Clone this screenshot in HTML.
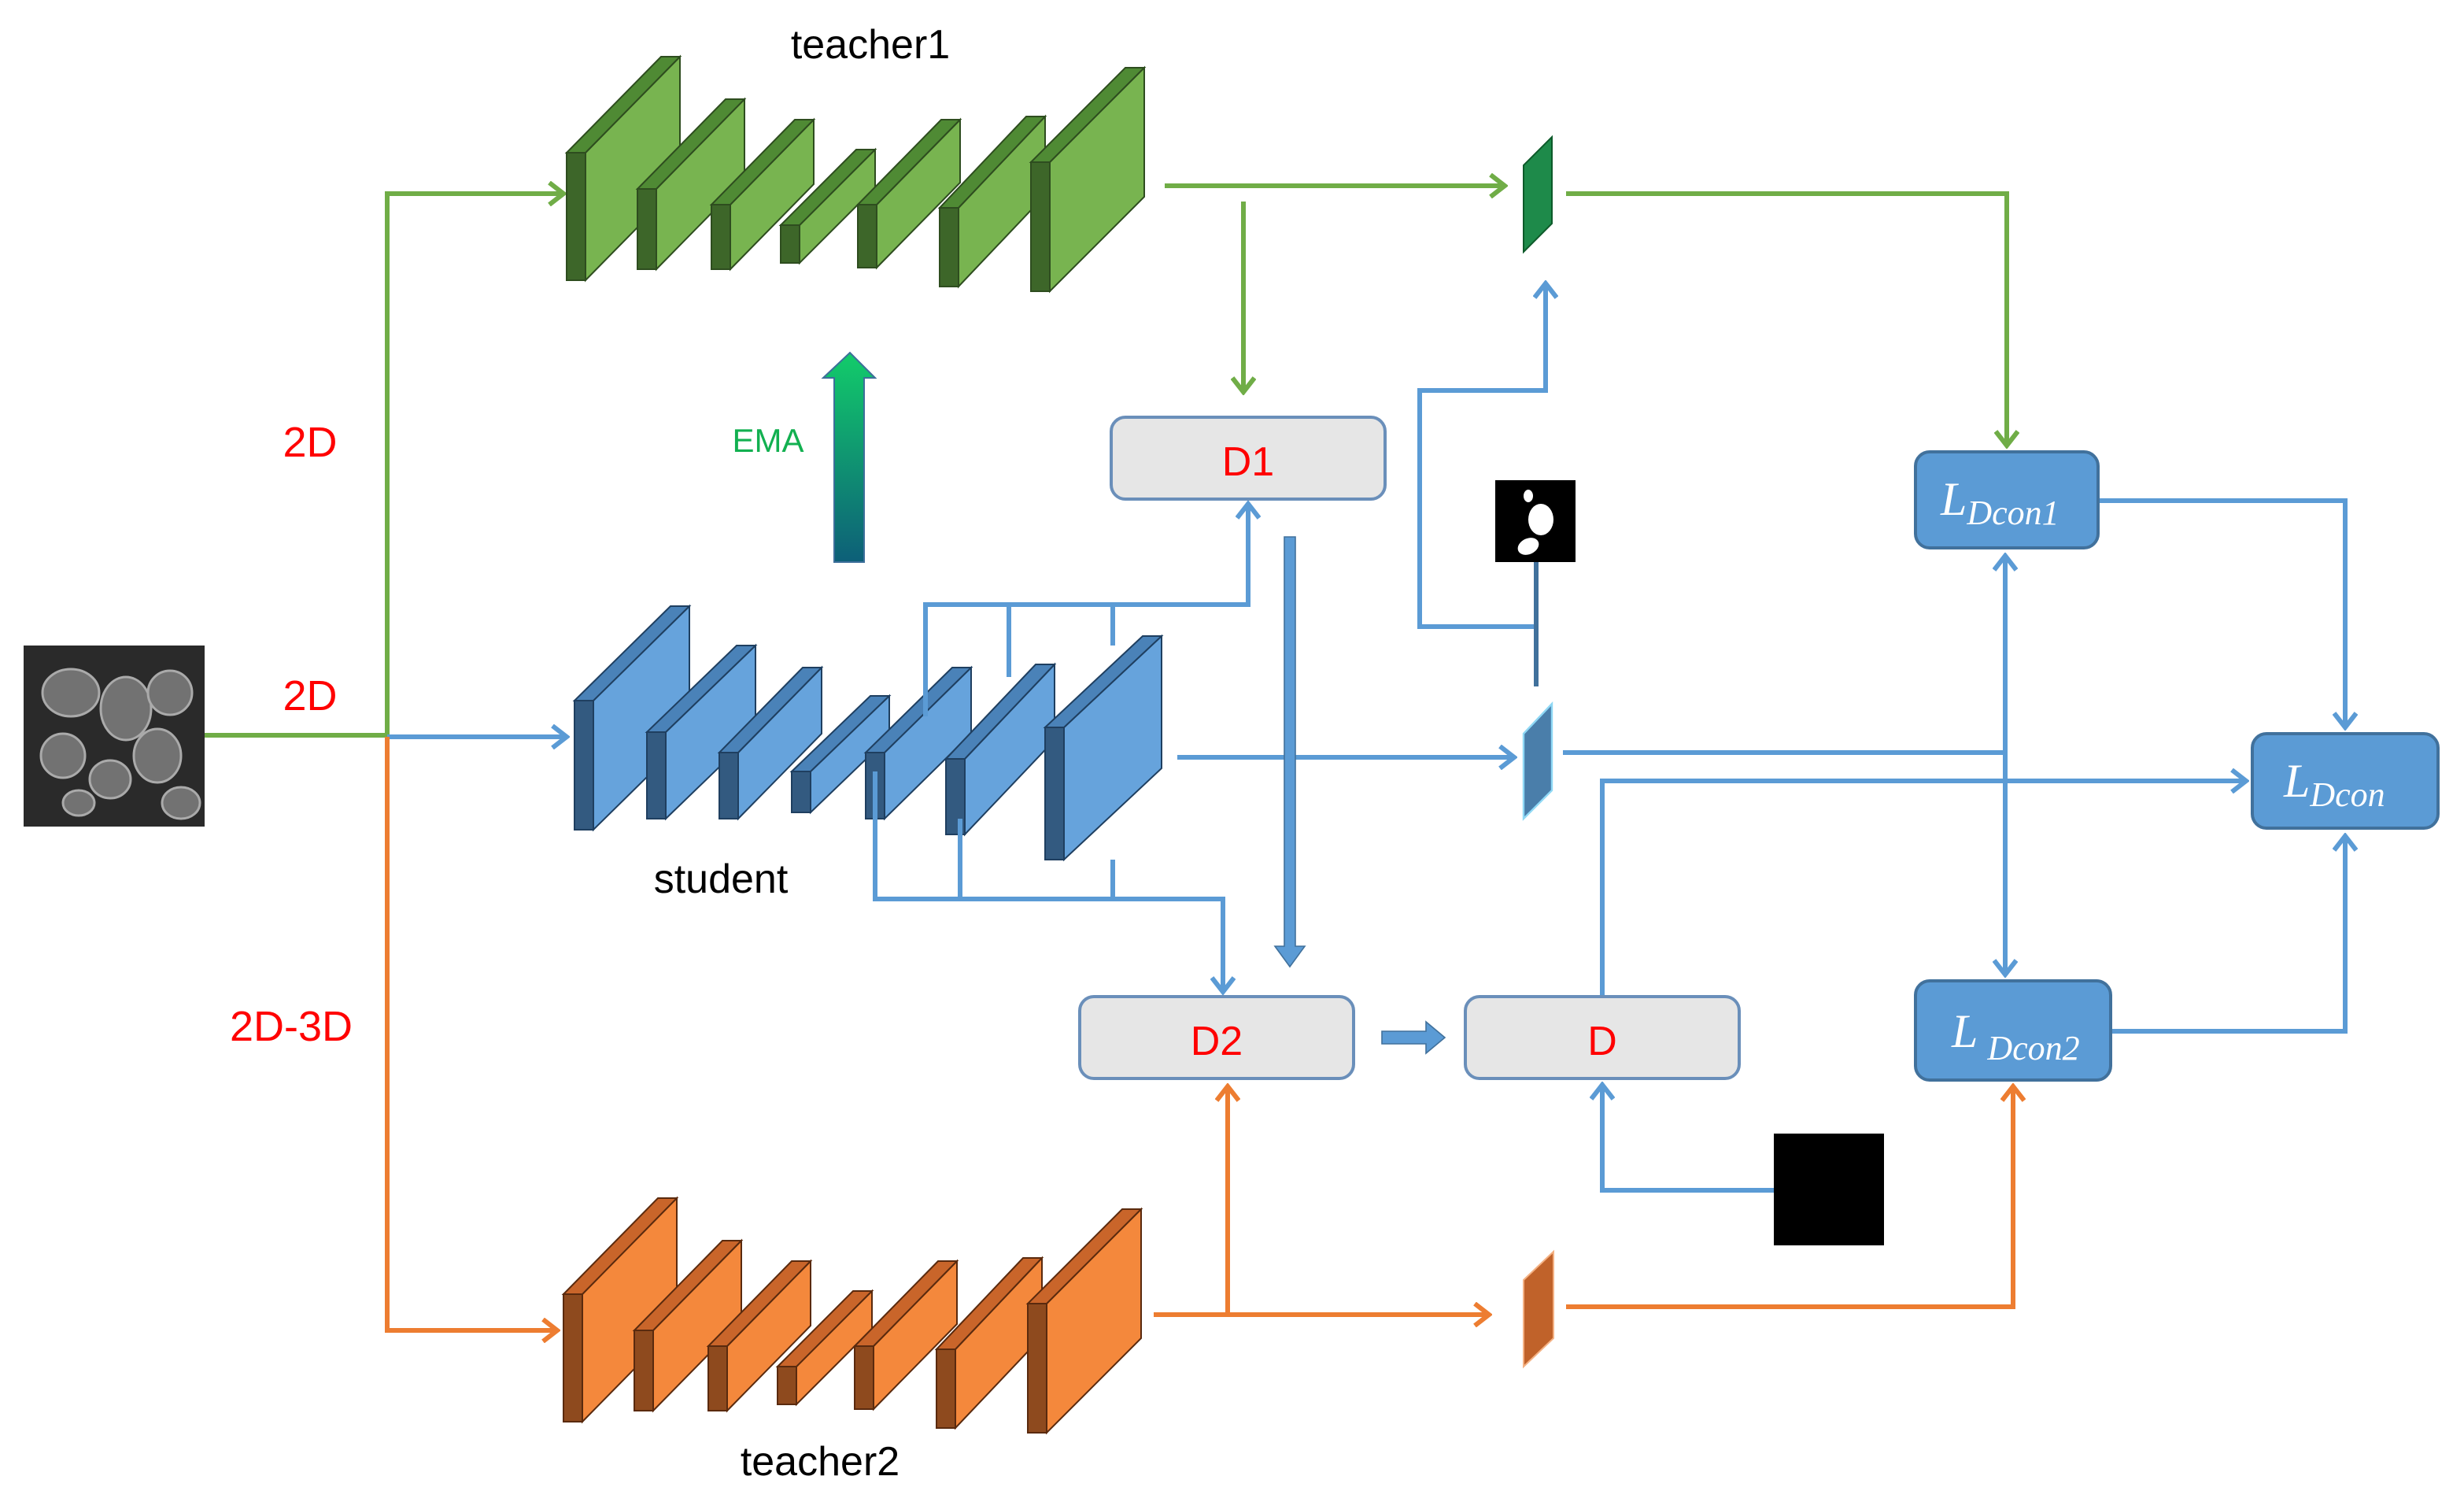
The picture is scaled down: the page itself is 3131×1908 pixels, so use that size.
<!DOCTYPE html>
<html><head><meta charset="utf-8"><style>
html,body{margin:0;padding:0;background:#fff}
svg{display:block}
text{font-family:"Liberation Sans",sans-serif}
text.m{font-family:"Liberation Serif",serif;font-style:italic}
</style></head><body>
<svg width="3131" height="1908" viewBox="0 0 1565.5 954" xmlns="http://www.w3.org/2000/svg">
<defs>
<marker id="ag" markerWidth="12" markerHeight="16" refX="10" refY="8" orient="auto" markerUnits="userSpaceOnUse"><path d="M1,1 L10,8 L1,15" fill="none" stroke="#70ad47" stroke-width="3"/></marker>
<marker id="ab" markerWidth="12" markerHeight="16" refX="10" refY="8" orient="auto" markerUnits="userSpaceOnUse"><path d="M1,1 L10,8 L1,15" fill="none" stroke="#5b9bd5" stroke-width="3"/></marker>
<marker id="ao" markerWidth="12" markerHeight="16" refX="10" refY="8" orient="auto" markerUnits="userSpaceOnUse"><path d="M1,1 L10,8 L1,15" fill="none" stroke="#ed7d31" stroke-width="3"/></marker>
<linearGradient id="ema" x1="0" y1="0" x2="0" y2="1"><stop offset="0" stop-color="#12cc6a"/><stop offset="1" stop-color="#0d5f78"/></linearGradient>
</defs>

<!-- input image -->
<rect x="15" y="410" width="115" height="115" fill="#2a2a2a"/>
<g fill="#7a7a7a" stroke="#b8b8b8" stroke-width="1.5" opacity="0.9">
<ellipse cx="45" cy="440" rx="18" ry="15"/><ellipse cx="80" cy="450" rx="16" ry="20"/><ellipse cx="108" cy="440" rx="14" ry="14"/>
<ellipse cx="40" cy="480" rx="14" ry="14"/><ellipse cx="70" cy="495" rx="13" ry="12"/><ellipse cx="100" cy="480" rx="15" ry="17"/>
<ellipse cx="50" cy="510" rx="10" ry="8"/><ellipse cx="115" cy="510" rx="12" ry="10"/>
</g>

<!-- connectors from input -->
<g fill="none" stroke-width="3">
<path d="M130,467 H246" stroke="#70ad47"/>
<path d="M246,467 V123 H358" stroke="#70ad47" marker-end="url(#ag)"/>
<path d="M246,468 H360" stroke="#5b9bd5" marker-end="url(#ab)"/>
<path d="M246,468 V845 H354" stroke="#ed7d31" marker-end="url(#ao)"/>
</g>
<text x="197" y="290" font-size="27" fill="#ff0000" text-anchor="middle">2D</text>
<text x="197" y="451" font-size="27" fill="#ff0000" text-anchor="middle">2D</text>
<text x="185" y="661" font-size="27" fill="#ff0000" text-anchor="middle">2D-3D</text>

<!-- teacher1 slabs -->
<g stroke="#2e4d1f" stroke-width="1">
<g fill="#78b450">
<polygon points="372,97 432,36 432,117 372,178"/><polygon points="417,120 473,63 473,114 417,171"/>
<polygon points="464,130 517,76 517,117 464,171"/><polygon points="508,143 556,95 556,119 508,167"/>
<polygon points="557,130 610,76 610,116 557,170"/><polygon points="609,132 664,74 664,124 609,182"/>
<polygon points="667,103 727,43 727,125 667,185"/></g>
<g fill="#4f8a34">
<polygon points="360,97 372,97 432,36 420,36"/><polygon points="405,120 417,120 473,63 461,63"/>
<polygon points="452,130 464,130 517,76 505,76"/><polygon points="496,143 508,143 556,95 544,95"/>
<polygon points="545,130 557,130 610,76 598,76"/><polygon points="597,132 609,132 664,74 652,74"/>
<polygon points="655,103 667,103 727,43 715,43"/></g>
<g fill="#3d6629">
<rect x="360" y="97" width="12" height="81"/><rect x="405" y="120" width="12" height="51"/>
<rect x="452" y="130" width="12" height="41"/><rect x="496" y="143" width="12" height="24"/>
<rect x="545" y="130" width="12" height="40"/><rect x="597" y="132" width="12" height="50"/>
<rect x="655" y="103" width="12" height="82"/></g>
</g>
<text x="553" y="37" font-size="26" fill="#000" text-anchor="middle">teacher1</text>

<!-- student slabs -->
<g stroke="#1f3f60" stroke-width="1">
<g fill="#66a3dc">
<polygon points="377,445 438,385 438,467 377,527"/><polygon points="423,465 480,410 480,465 423,520"/>
<polygon points="469,478 522,424 522,466 469,520"/><polygon points="515,490 565,442 565,468 515,516"/>
<polygon points="562,478 617,424 617,466 562,520"/><polygon points="613,482 670,422 670,470 613,530"/>
<polygon points="676,462 738,404 738,488 676,546"/></g>
<g fill="#4a82b8">
<polygon points="365,445 377,445 438,385 426,385"/><polygon points="411,465 423,465 480,410 468,410"/>
<polygon points="457,478 469,478 522,424 510,424"/><polygon points="503,490 515,490 565,442 553,442"/>
<polygon points="550,478 562,478 617,424 605,424"/><polygon points="601,482 613,482 670,422 658,422"/>
<polygon points="664,462 676,462 738,404 726,404"/></g>
<g fill="#335a80">
<rect x="365" y="445" width="12" height="82"/><rect x="411" y="465" width="12" height="55"/>
<rect x="457" y="478" width="12" height="42"/><rect x="503" y="490" width="12" height="26"/>
<rect x="550" y="478" width="12" height="42"/><rect x="601" y="482" width="12" height="48"/>
<rect x="664" y="462" width="12" height="84"/></g>
</g>
<text x="458" y="567" font-size="26" fill="#000" text-anchor="middle">student</text>

<!-- teacher2 slabs -->
<g stroke="#5a2a0e" stroke-width="1">
<g fill="#f4883c">
<polygon points="370,822 430,761 430,842 370,903"/><polygon points="415,845 471,788 471,839 415,896"/>
<polygon points="462,855 515,801 515,842 462,896"/><polygon points="506,868 554,820 554,844 506,892"/>
<polygon points="555,855 608,801 608,841 555,895"/><polygon points="607,857 662,799 662,849 607,907"/>
<polygon points="665,828 725,768 725,850 665,910"/></g>
<g fill="#c9652a">
<polygon points="358,822 370,822 430,761 418,761"/><polygon points="403,845 415,845 471,788 459,788"/>
<polygon points="450,855 462,855 515,801 503,801"/><polygon points="494,868 506,868 554,820 542,820"/>
<polygon points="543,855 555,855 608,801 596,801"/><polygon points="595,857 607,857 662,799 650,799"/>
<polygon points="653,828 665,828 725,768 713,768"/></g>
<g fill="#8e4a1e">
<rect x="358" y="822" width="12" height="81"/><rect x="403" y="845" width="12" height="51"/>
<rect x="450" y="855" width="12" height="41"/><rect x="494" y="868" width="12" height="24"/>
<rect x="543" y="855" width="12" height="40"/><rect x="595" y="857" width="12" height="50"/>
<rect x="653" y="828" width="12" height="82"/></g>
</g>
<text x="521" y="937" font-size="26" fill="#000" text-anchor="middle">teacher2</text>

<!-- EMA -->
<polygon points="530,357 549,357 549,240 556,240 540,224 523,240 530,240" fill="url(#ema)" stroke="#3d6f9a" stroke-width="1"/>
<text x="488" y="287" font-size="21" fill="#12b050" text-anchor="middle">EMA</text>

<!-- green connectors -->
<g fill="none" stroke="#70ad47" stroke-width="3">
<path d="M740,118 H956" marker-end="url(#ag)"/>
<path d="M995,123 H1275 V283" marker-end="url(#ag)"/>
<path d="M790,128 V249" marker-end="url(#ag)"/>
</g>
<polygon points="968,105 986,87 986,142 968,160" fill="#1e8a4a" stroke="#0d5a2a" stroke-width="1"/>

<!-- student connectors -->
<g fill="none" stroke="#5b9bd5" stroke-width="3">
<path d="M588,455 V384 H793 V320" marker-end="url(#ab)"/>
<path d="M641,430 V384"/><path d="M707,410 V384"/>
<path d="M556,490 V571 H777 V630" marker-end="url(#ab)"/>
<path d="M610,520 V571"/><path d="M707,546 V571"/>
<path d="M748,481 H962" marker-end="url(#ab)"/>
<path d="M993,478 H1275"/>
<path d="M976,398 H902 V248 H982 V180" marker-end="url(#ab)"/>
<path d="M1127,756 H1018 V689" marker-end="url(#ab)"/>
<path d="M1018,633 V496 H1427" marker-end="url(#ab)"/>
<path d="M1274,355 V619" marker-end="url(#ab)"/>
<path d="M1274,600 V353" marker-end="url(#ab)"/>
<path d="M1333,318 H1490 V462" marker-end="url(#ab)"/>
<path d="M1341,655 H1490 V531" marker-end="url(#ab)"/>
</g>
<path d="M976,357 V436" stroke="#41719c" stroke-width="3"/>
<polygon points="968,466 986,447 986,502 968,520" fill="#4a7eaa" stroke="#8fd8f5" stroke-width="1.2"/>

<!-- thick arrows -->
<polygon points="816,341 823,341 823,601 829,601 819.5,614 810,601 816,601" fill="#5b9bd5" stroke="#41719c" stroke-width="0.8"/>
<polygon points="878,655 906,655 906,649 918,659 906,669 906,663 878,663" fill="#5b9bd5" stroke="#41719c" stroke-width="0.8"/>

<!-- orange connectors -->
<g fill="none" stroke="#ed7d31" stroke-width="3">
<path d="M733,835 H946" marker-end="url(#ao)"/>
<path d="M780,835 V690" marker-end="url(#ao)"/>
<path d="M995,830 H1279 V690" marker-end="url(#ao)"/>
</g>
<polygon points="968,813 987,795 987,850 968,868" fill="#c0622a" stroke="#f4b183" stroke-width="1"/>

<!-- mask images -->
<rect x="950" y="305" width="51" height="52" fill="#000"/>
<ellipse cx="971" cy="315" rx="3" ry="4" fill="#fff"/>
<ellipse cx="979" cy="330" rx="8" ry="10" fill="#fff"/>
<ellipse cx="971" cy="347" rx="7" ry="5" fill="#fff" transform="rotate(-25 971 347)"/>
<rect x="1127" y="720" width="70" height="71" fill="#000"/>

<!-- boxes -->
<g stroke="#6a8fba" stroke-width="2" fill="#e6e6e6">
<rect x="706" y="265" width="174" height="52" rx="9"/>
<rect x="686" y="633" width="174" height="52" rx="9"/>
<rect x="931" y="633" width="174" height="52" rx="9"/>
</g>
<text x="793" y="302" font-size="26" fill="#ff0000" text-anchor="middle">D1</text>
<text x="773" y="670" font-size="26" fill="#ff0000" text-anchor="middle">D2</text>
<text x="1018" y="670" font-size="26" fill="#ff0000" text-anchor="middle">D</text>

<g stroke="#41719c" stroke-width="2" fill="#5b9bd5">
<rect x="1217" y="287" width="116" height="61" rx="9"/>
<rect x="1217" y="623" width="124" height="63" rx="9"/>
<rect x="1431" y="466" width="118" height="60" rx="9"/>
</g>
<g fill="#fff">
<text class="m" x="1233" y="327" font-size="30">L<tspan font-size="22" dy="6">Dcon1</tspan></text>
<text class="m" x="1240" y="665" font-size="30">L<tspan font-size="22" dy="8" dx="6">Dcon2</tspan></text>
<text class="m" x="1451" y="506" font-size="30">L<tspan font-size="22" dy="6">Dcon</tspan></text>
</g>
</svg>
</body></html>
